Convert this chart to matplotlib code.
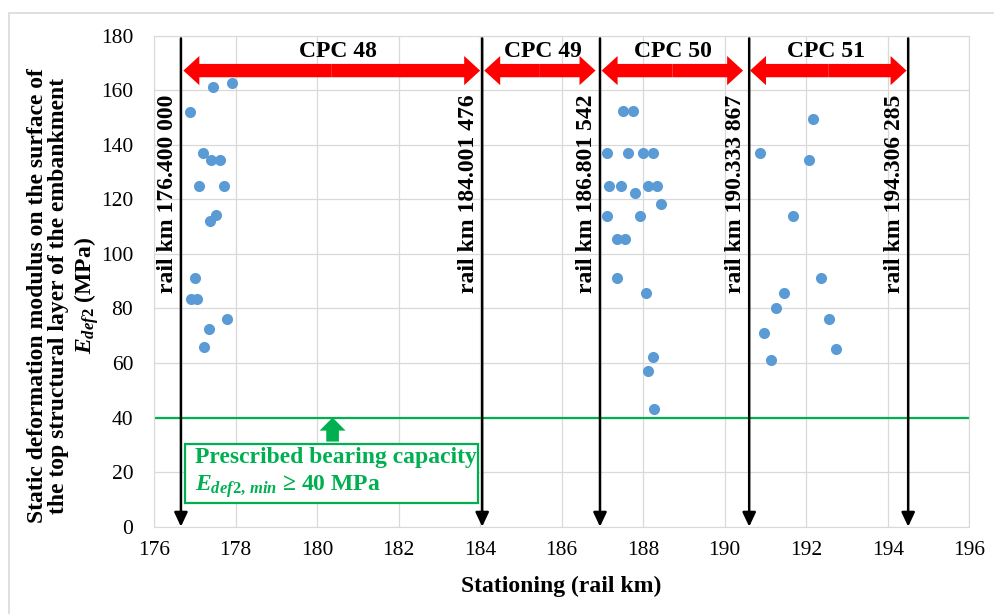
import matplotlib
matplotlib.use("Agg")
import matplotlib.pyplot as plt
from matplotlib.patches import FancyArrowPatch, Rectangle, ArrowStyle

plt.rcParams['font.family'] = 'Liberation Serif'
plt.rcParams['mathtext.fontset'] = 'custom'
plt.rcParams['mathtext.rm'] = 'Liberation Serif:bold'
plt.rcParams['mathtext.it'] = 'Liberation Serif:italic:bold'
plt.rcParams['mathtext.bf'] = 'Liberation Serif:bold'

# measured points (stationing in rail km, Edef2 in MPa)
km_cpc48 = [177.91, 177.44, 176.88, 177.19, 177.39, 177.61, 177.10, 177.72,
            177.52, 177.37, 177.01, 176.90, 177.05, 177.79, 177.35, 177.23]
e_cpc48 = [162.5, 161.1, 152.1, 137.1, 134.4, 134.4, 124.8, 124.8,
           114.2, 112.2, 91.2, 83.4, 83.4, 76.0, 72.5, 66.0]

km_cpc50 = [187.50, 187.76, 187.10, 187.63, 188.00, 188.23, 187.17, 187.45,
            188.12, 188.35, 187.81, 188.44, 187.12, 187.92, 187.36, 187.56,
            187.35, 188.06, 188.25, 188.12, 188.27]
e_cpc50 = [152.3, 152.3, 136.9, 136.9, 136.9, 136.9, 124.8, 124.8,
           124.8, 124.8, 122.2, 118.4, 114.0, 114.0, 105.4, 105.4,
           91.2, 85.6, 62.1, 57.2, 43.0]

km_cpc51 = [192.16, 190.87, 192.06, 191.67, 192.36, 191.46, 191.26, 192.56,
            190.97, 192.73, 191.14]
e_cpc51 = [149.3, 136.9, 134.4, 113.9, 91.2, 85.6, 80.2, 76.0, 71.1, 65.2, 61.1]

# section boundaries as drawn and their labels
bound_x = [176.66, 184.05, 186.94, 190.60, 194.50]
bound_labels = ["rail km 176.400 000", "rail km 184.001 476", "rail km 186.801 542",
                "rail km 190.333 867", "rail km 194.306 285"]

# CPC sections (start, end, label position)
cpc_names = ["CPC 48", "CPC 49", "CPC 50", "CPC 51"]
cpc_start = [176.72, 184.10, 186.98, 190.62]
cpc_end = [184.00, 186.83, 190.45, 194.46]
cpc_text_x = [180.50, 185.53, 188.72, 192.48]

e_min = 40

fig = plt.figure(figsize=(9.95, 6.14), dpi=100)
ax = fig.add_axes([0.1548, 0.1422, 0.8194, 0.7997])

# chart area border
fig.patches.append(Rectangle((0.009, -0.05), 1.1, 0.9788 + 0.05, transform=fig.transFigure,
                             fill=False, ec='#D9D9D9', lw=1.2))

ax.set_xlim(176, 196)
ax.set_ylim(0, 180)
ax.set_xticks(range(176, 197, 2))
ax.set_yticks(range(0, 181, 20))
ax.grid(True, color='#D9D9D9', lw=0.9)
ax.set_axisbelow(True)
for s in ax.spines.values():
    s.set_color('#D9D9D9')
ax.tick_params(length=0, labelsize=15.5)
ax.tick_params(axis='x', pad=10)
ax.tick_params(axis='y', pad=15)

# minimum requirement line
ax.axhline(e_min, color='#00B050', lw=1.6, zorder=2)

# data
for kx, ey in [(km_cpc48, e_cpc48), (km_cpc50, e_cpc50), (km_cpc51, e_cpc51)]:
    ax.scatter(kx, ey, s=64, color='#5B9BD5', zorder=4, lw=0)

# boundaries with down arrows
for bx, lab in zip(bound_x, bound_labels):
    ax.annotate('', xy=(bx, 0), xytext=(bx, 179),
                arrowprops=dict(arrowstyle='-|>,head_length=0.85,head_width=0.4',
                                mutation_scale=10, lw=1.8, color='black',
                                shrinkA=0, shrinkB=0), zorder=3)
    ax.annotate(lab, xy=(bx, 122), xytext=(-2, 0), textcoords='offset points',
                rotation=90, ha='right', va='center', fontsize=17, fontweight='bold')

# red double arrows for the sections
red_style = ArrowStyle.Simple(head_length=11.5, head_width=21, tail_width=9.6)
for a, b, tx, name in zip(cpc_start, cpc_end, cpc_text_x, cpc_names):
    mid = (a + b) / 2
    for end in (a, b):
        ax.add_patch(FancyArrowPatch((mid, 167.2), (end, 167.2), arrowstyle=red_style,
                                     mutation_scale=1, color='#FF0000', lw=0,
                                     shrinkA=0, shrinkB=0, zorder=5))
    ax.text(tx, 172.3, name, ha='center', va='baseline', fontsize=17, fontweight='bold')

# green note
ax.add_patch(FancyArrowPatch((180.38, 31.2), (180.38, e_min),
                             arrowstyle=ArrowStyle.Simple(head_length=9.4, head_width=18.7,
                                                          tail_width=9.1),
                             mutation_scale=1, color='#00B050', lw=0,
                             shrinkA=0, shrinkB=0, zorder=5))
ax.add_patch(Rectangle((176.76, 8.8), 183.95 - 176.76, 30.2 - 8.8, fc='white',
                       ec='#00B050', lw=1.6, zorder=5))
ax.text(177.0, 23.2, "Prescribed bearing capacity", color='#00B050', fontsize=17,
        fontweight='bold', va='baseline', zorder=6)
ax.text(177.0, 13.1, r"$E_{\mathit{def2,\,min}}$ ≥ 40 MPa", color='#00B050', fontsize=17,
        fontweight='bold', va='baseline', zorder=6)

# axis titles
fig.text(561.6 / 995, 1 - 586 / 614, "Stationing (rail km)", ha='center', va='center',
         fontsize=17, fontweight='bold')
fig.text(0.048, 0.518, "Static deformation modulus on the surface of\n"
         "the top structural layer of the embankment", rotation=90, ha='center',
         va='center', ma='center', fontsize=17, fontweight='bold', linespacing=1.0)
fig.text(0.0874, 0.518, r"$E_{\mathit{def2}}$ (MPa)", rotation=90, ha='center', va='center',
         fontsize=17, fontweight='bold')

fig.savefig("out.png", dpi=100)
